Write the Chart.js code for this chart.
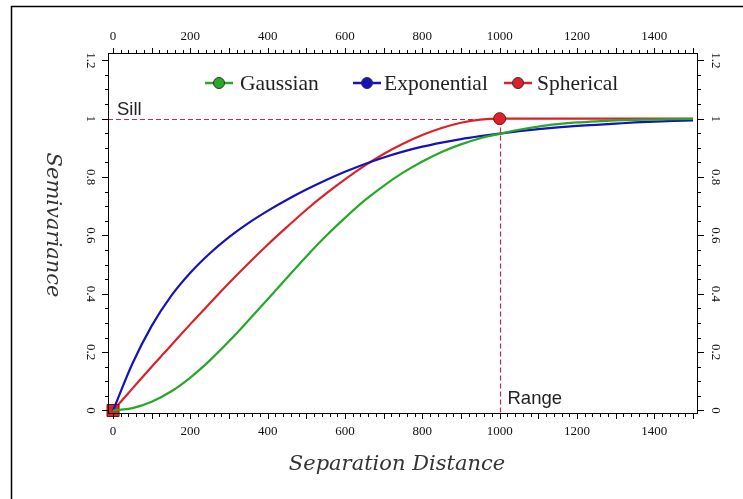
<!DOCTYPE html>
<html>
<head>
<meta charset="utf-8">
<script src="https://cdn.jsdelivr.net/npm/chart.js@4.4.0/dist/chart.umd.min.js"></script>
<style>
  html, body { margin: 0; padding: 0; background: #fff; }
</style>
</head>
<body>
<canvas id="myChart" width="743" height="499"></canvas>
<script>
// distancia de separación (eje x)
const distancia = [0, 50, 100, 150, 200, 250, 300, 350, 400, 450, 500, 550, 600, 650, 700, 750,
  800, 850, 900, 950, 1000, 1050, 1100, 1150, 1200, 1250, 1300, 1350, 1400, 1450, 1500];

const gaussiano = [0, 0.008, 0.030, 0.065, 0.113, 0.171, 0.237, 0.308, 0.381, 0.455, 0.528, 0.597,
  0.660, 0.719, 0.770, 0.815, 0.853, 0.886, 0.912, 0.933, 0.948, 0.962, 0.973, 0.981, 0.987,
  0.991, 0.994, 0.996, 0.997, 0.998, 0.999];

const exponencial = [0, 0.160, 0.290, 0.392, 0.472, 0.538, 0.594, 0.642, 0.684, 0.722, 0.757, 0.789,
  0.818, 0.844, 0.867, 0.887, 0.904, 0.918, 0.930, 0.940, 0.949, 0.957, 0.964, 0.970, 0.975,
  0.979, 0.983, 0.987, 0.990, 0.992, 0.994];

const esferico = [0, 0.075, 0.150, 0.223, 0.296, 0.367, 0.437, 0.504, 0.568, 0.629, 0.688, 0.742,
  0.792, 0.838, 0.879, 0.914, 0.944, 0.968, 0.986, 0.997, 1, 1, 1, 1, 1, 1, 1, 1, 1, 1, 1];

const etiquetasX = ['0', '200', '400', '600', '800', '1000', '1200', '1400'];
const valoresX = [0, 200, 400, 600, 800, 1000, 1200, 1400];
const etiquetasY = ['0', '0.2', '0.4', '0.6', '0.8', '1', '1.2'];
const valoresY = [0, 0.2, 0.4, 0.6, 0.8, 1, 1.2];

const meseta = 1;     // sill
const rango = 1000;   // range

const series = [
  { nombre: 'Gaussian', color: '#27a827', datos: gaussiano },
  { nombre: 'Exponential', color: '#1414b8', datos: exponencial },
  { nombre: 'Spherical', color: '#dc2228', datos: esferico }
];

const fuenteTicks = '13px "Liberation Serif", "Times New Roman", serif';

const ejes = {
  id: 'ejes',
  beforeDraw(chart) {
    const ctx = chart.ctx;
    ctx.save();
    ctx.strokeStyle = '#000';
    ctx.lineWidth = 1.5;
    ctx.beginPath();
    ctx.moveTo(11.5, 499);
    ctx.lineTo(11.5, 6.5);
    ctx.lineTo(743, 6.5);
    ctx.stroke();
    ctx.restore();
  },
  beforeDatasetsDraw(chart) {
    const { ctx, chartArea: a, scales: { x, y } } = chart;
    const px = Math.round(x.getPixelForValue(rango)) + 0.5;
    const py = Math.round(y.getPixelForValue(meseta)) + 0.5;
    ctx.save();
    ctx.strokeStyle = '#c42a50';
    ctx.lineWidth = 1.2;
    ctx.setLineDash([5, 3]);
    ctx.beginPath();
    ctx.moveTo(a.left, py);
    ctx.lineTo(px, py);
    ctx.stroke();
    ctx.beginPath();
    ctx.moveTo(px, py);
    ctx.lineTo(px, a.bottom);
    ctx.stroke();
    ctx.setLineDash([]);
    ctx.fillStyle = '#222';
    ctx.font = '18.5px "Liberation Sans", Arial, sans-serif';
    ctx.textAlign = 'left';
    ctx.textBaseline = 'alphabetic';
    ctx.fillText('Sill', a.left + 9, py - 5);
    ctx.fillText('Range', px + 7, a.bottom - 10);
    ctx.restore();
  },
  afterDraw(chart) {
    const { ctx, chartArea: a, scales: { x, y } } = chart;
    ctx.save();
    ctx.strokeStyle = '#000';
    ctx.lineWidth = 1;
    ctx.strokeRect(a.left + 0.5, a.top + 0.5, a.right - a.left - 1, a.bottom - a.top - 1);

    // marcas del eje x (arriba y abajo)
    ctx.beginPath();
    for (let v = 0; v <= 1500; v += 20) {
      const p = Math.round(x.getPixelForValue(v)) + 0.5;
      const largo = v % 100 === 0 ? 5 : 3;
      ctx.moveTo(p, a.bottom); ctx.lineTo(p, a.bottom + largo);
      ctx.moveTo(p, a.top); ctx.lineTo(p, a.top - largo);
    }
    // marcas del eje y (izquierda y derecha)
    for (let i = 0; i <= 24; i++) {
      const v = i * 0.05;
      const p = Math.round(y.getPixelForValue(v)) + 0.5;
      const largo = i % 4 === 0 ? 6 : 3;
      ctx.moveTo(a.left, p); ctx.lineTo(a.left - largo, p);
      ctx.moveTo(a.right, p); ctx.lineTo(a.right + largo, p);
    }
    ctx.stroke();

    ctx.fillStyle = '#111';
    ctx.font = fuenteTicks;
    ctx.textAlign = 'center';
    ctx.textBaseline = 'middle';
    valoresX.forEach((v, i) => {
      const p = x.getPixelForValue(v);
      ctx.fillText(etiquetasX[i], p, a.top - 16);
      ctx.fillText(etiquetasX[i], p, a.bottom + 18);
    });
    valoresY.forEach((v, i) => {
      const p = y.getPixelForValue(v);
      [a.left - 18, a.right + 17].forEach((cx) => {
        ctx.save();
        ctx.translate(cx, p);
        ctx.rotate(Math.PI / 2);
        ctx.fillText(etiquetasY[i], 0, 0);
        ctx.restore();
      });
    });

    // títulos de los ejes
    ctx.fillStyle = '#333';
    ctx.font = 'italic 21px "DejaVu Serif", serif';
    ctx.fillText('Separation Distance', 397, 465);
    ctx.save();
    ctx.translate(52, 225);
    ctx.rotate(Math.PI / 2);
    ctx.fillText('Semivariance', 0, 0);
    ctx.restore();

    // leyenda
    const marcadores = [219, 367, 518];
    const textos = [240, 384, 537];
    ctx.font = '21.5px "Liberation Serif", "Times New Roman", serif';
    ctx.textAlign = 'left';
    series.forEach((s, i) => {
      const cx = marcadores[i];
      const cy = 83;
      ctx.strokeStyle = s.color;
      ctx.lineWidth = 2.5;
      ctx.beginPath();
      ctx.moveTo(cx - 14, cy); ctx.lineTo(cx + 14, cy);
      ctx.stroke();
      ctx.beginPath();
      ctx.arc(cx, cy, 5.5, 0, Math.PI * 2);
      ctx.fillStyle = s.color;
      ctx.fill();
      ctx.lineWidth = 1;
      ctx.strokeStyle = '#333';
      ctx.stroke();
      ctx.fillStyle = '#222';
      ctx.fillText(s.nombre, textos[i], cy + 1);
    });
    ctx.restore();
  }
};

const radios = esferico.map((v, i) => (i === 0 ? 8.5 : distancia[i] === rango ? 6 : 0));
const estilos = esferico.map((v, i) => (i === 0 ? 'rect' : 'circle'));

new Chart(document.getElementById('myChart'), {
  type: 'line',
  data: {
    labels: distancia,
    datasets: series.map((s) => ({
      label: s.nombre,
      data: s.datos.map((v, i) => ({ x: distancia[i], y: v })),
      borderColor: s.color,
      backgroundColor: s.color,
      borderWidth: 2.2,
      cubicInterpolationMode: 'monotone',
      pointRadius: s.nombre === 'Spherical' ? radios : 0,
      pointStyle: s.nombre === 'Spherical' ? estilos : 'circle',
      pointBorderColor: '#7a1010',
      pointBorderWidth: 1,
      clip: false
    }))
  },
  options: {
    responsive: false,
    animation: false,
    layout: { padding: { left: 108, right: 45, top: 53, bottom: 85 } },
    plugins: { legend: { display: false }, tooltip: { enabled: false } },
    scales: {
      x: { type: 'linear', min: -13, max: 1513, display: false },
      y: { min: -0.012, max: 1.225, display: false }
    }
  },
  plugins: [ejes]
});
</script>
</body>
</html>
